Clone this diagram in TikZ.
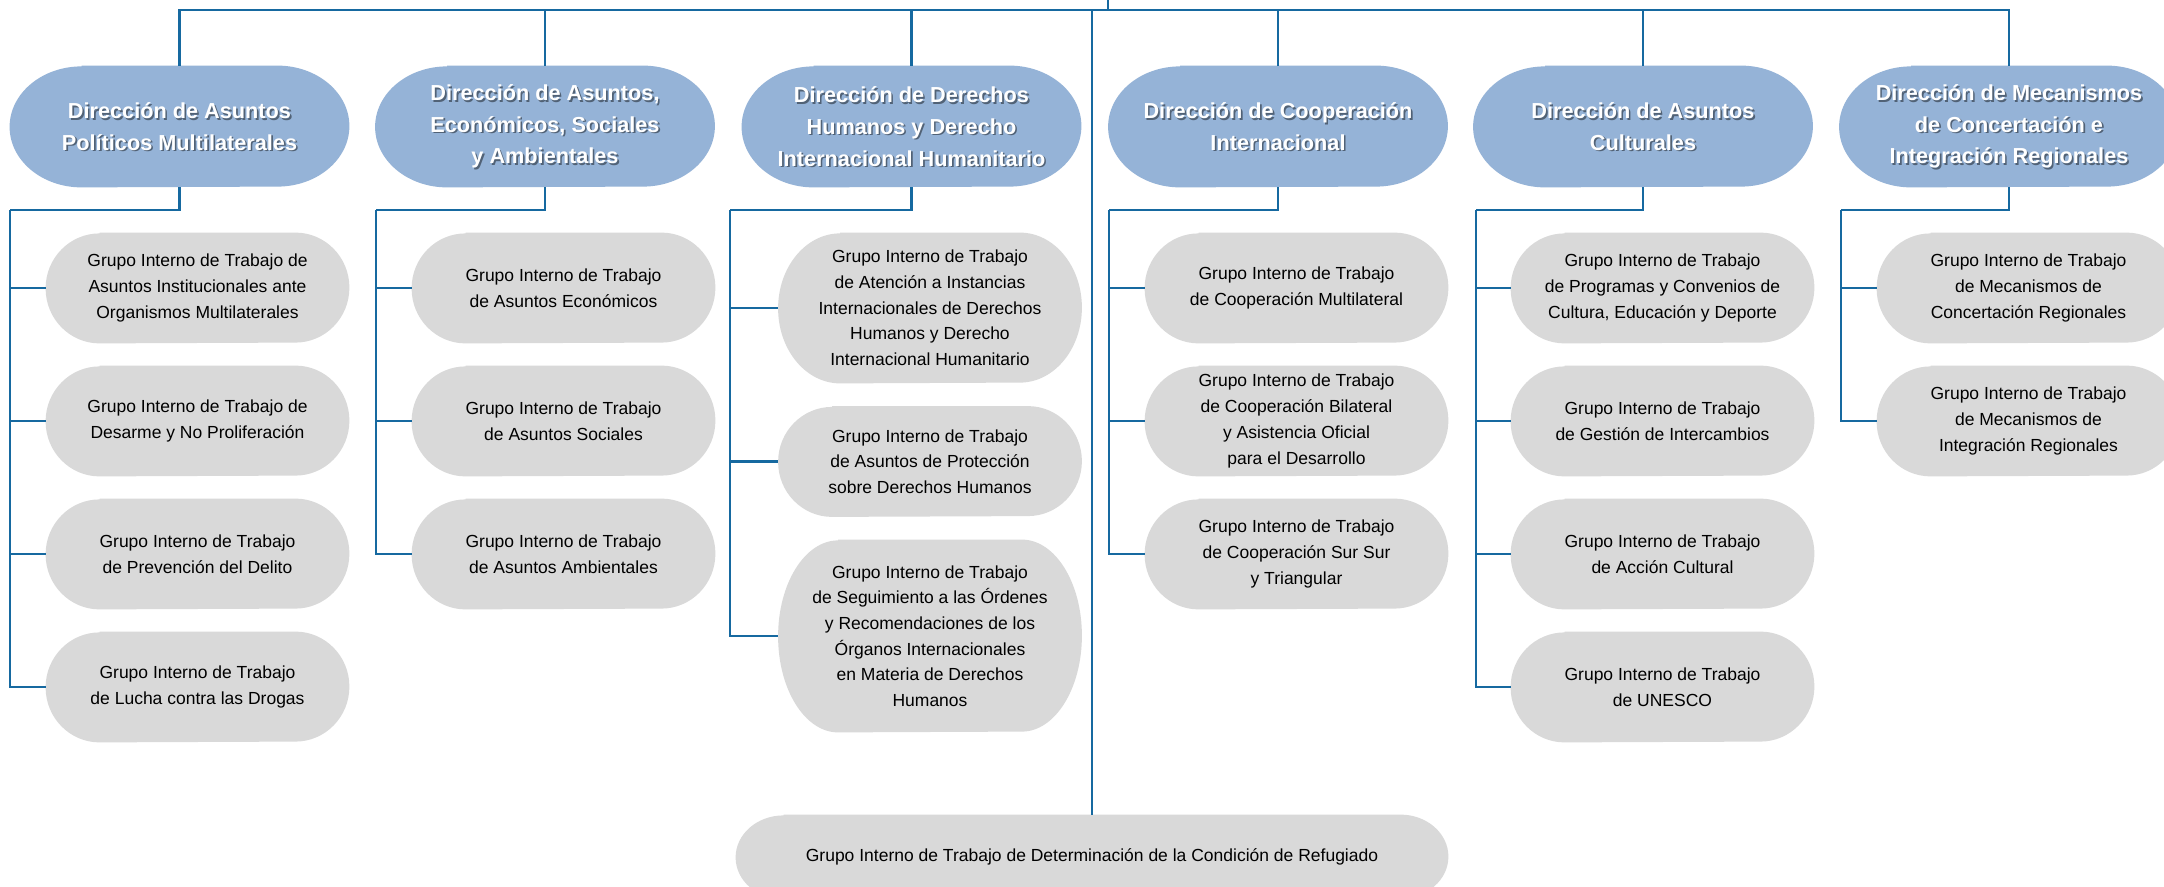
\documentclass[tikz,border=0pt]{standalone}
\usepackage{fontspec}
\setmainfont{Liberation Sans}
\definecolor{linec}{RGB}{22,105,160}
\definecolor{dirblue}{RGB}{149,179,215}
\definecolor{grpgray}{RGB}{217,217,217}
\newcommand\grpfont{\fontsize{8.75pt}{12.85pt}\selectfont}
\newcommand\dirfont{\bfseries\fontsize{10.85pt}{15.85pt}\selectfont}
\pgfdeclarelayer{background}
\pgfsetlayers{background,main}
\tikzset{
  conn/.style={draw=linec, line width=1.2pt},
  dirbox/.style={minimum width=169.5pt, minimum height=60.5pt, inner sep=0pt},
  dirtext/.style={align=center, font=\dirfont, text=white, inner sep=0pt},
  dirshadow/.style={align=center, font=\dirfont, text=black, text opacity=0.45, inner sep=0pt},
  grp/.style={minimum width=151.5pt, minimum height=55pt, inner sep=0pt, align=center, font=\grpfont},
}
% stadium-like fill with elliptic ends: name, colour, x radius, y radius
\newcommand\stad[4]{%
  \begin{pgfonlayer}{background}
  \fill[#2] ([xshift=#3]#1.north west) -- ([xshift=-#3]#1.north east)
    arc[start angle=90,end angle=-90,x radius=#3,y radius=#4]
    -- ([xshift=#3]#1.south west)
    arc[start angle=270,end angle=90,x radius=#3,y radius=#4] -- cycle;
  \end{pgfonlayer}}
\newcommand\dirnode[3]{%
  \node[dirbox] (#1) at (#2,126.5) {};
  \stad{#1}{dirblue}{36pt}{30.25pt}
  \node[dirshadow] (#1s) at ([shift={(1.6,1.6)}]#1.center) {#3};
  \node[dirtext] (#1t) at (#1.center) {#3};
}
\begin{document}
\begin{tikzpicture}[x=0.5pt,y=-0.5pt]
\useasboundingbox (0,0) rectangle (2164,887);
\clip (0,0) rectangle (2164,887);
\begin{pgfonlayer}{background}
\fill[white] (0,0) rectangle (2164,887);
\end{pgfonlayer}

% Direcciones
\dirnode{B1}{179.5}{Dirección de Asuntos\\Políticos Multilaterales}
\dirnode{B2}{545}{Dirección de Asuntos,\\Económicos, Sociales\\y Ambientales}
\dirnode{B3}{911.5}{Dirección de Derechos\\Humanos y Derecho\\Internacional Humanitario}
\dirnode{B4}{1278}{Dirección de Cooperación\\Internacional}
\dirnode{B5}{1643}{Dirección de Asuntos\\Culturales}
\dirnode{B6}{2009}{Dirección de Mecanismos\\de Concertación e\\Integración Regionales}

% Column 1
\node[grp] (G11) at (197.5,288) {Grupo Interno de Trabajo de\\Asuntos Institucionales ante\\Organismos Multilaterales};
\node[grp] (G12) at (197.5,421) {Grupo Interno de Trabajo de\\Desarme y No Proliferación};
\node[grp] (G13) at (197.5,554) {Grupo Interno de Trabajo\\de Prevención del Delito};
\node[grp] (G14) at (197.5,687) {Grupo Interno de Trabajo\\de Lucha contra las Drogas};

% Column 2
\node[grp] (G21) at (563.5,288) {Grupo Interno de Trabajo\\de Asuntos Económicos};
\node[grp] (G22) at (563.5,421) {Grupo Interno de Trabajo\\de Asuntos Sociales};
\node[grp] (G23) at (563.5,554) {Grupo Interno de Trabajo\\de Asuntos Ambientales};

% Column 3
\node[grp, minimum height=75pt] (G31) at (930,308) {Grupo Interno de Trabajo\\de Atención a Instancias\\Internacionales de Derechos\\Humanos y Derecho\\Internacional Humanitario};
\node[grp] (G32) at (930,461.5) {Grupo Interno de Trabajo\\de Asuntos de Protección\\sobre Derechos Humanos};
\node[grp, minimum height=96pt] (G33) at (930,636) {Grupo Interno de Trabajo\\de Seguimiento a las Órdenes\\y Recomendaciones de los\\Órganos Internacionales\\en Materia de Derechos\\Humanos};

% Column 4
\node[grp] (G41) at (1296.5,288) {Grupo Interno de Trabajo\\de Cooperación Multilateral};
\node[grp] (G42) at (1296.5,421) {Grupo Interno de Trabajo\\de Cooperación Bilateral\\y Asistencia Oficial\\para el Desarrollo};
\node[grp] (G43) at (1296.5,554) {Grupo Interno de Trabajo\\de Cooperación Sur Sur\\y Triangular};

% Column 5
\node[grp] (G51) at (1662.5,288) {Grupo Interno de Trabajo\\de Programas y Convenios de\\Cultura, Educación y Deporte};
\node[grp] (G52) at (1662.5,421) {Grupo Interno de Trabajo\\de Gestión de Intercambios};
\node[grp] (G53) at (1662.5,554) {Grupo Interno de Trabajo\\de Acción Cultural};
\node[grp] (G54) at (1662.5,687) {Grupo Interno de Trabajo\\de UNESCO};

% Column 6
\node[grp] (G61) at (2028.5,288) {Grupo Interno de Trabajo\\de Mecanismos de\\Concertación Regionales};
\node[grp] (G62) at (2028.5,421) {Grupo Interno de Trabajo\\de Mecanismos de\\Integración Regionales};

% Refugiado
\node[grp, minimum width=356pt, minimum height=42pt] (R) at (1092,857) {Grupo Interno de Trabajo de Determinación de la Condición de Refugiado};

% grey fills
\foreach \g in {G11,G12,G13,G14,G21,G22,G23,G32,G41,G42,G43,G51,G52,G53,G54,G61,G62}
  {\stad{\g}{grpgray}{27pt}{27.5pt}}
\stad{G31}{grpgray}{31pt}{37.5pt}
\stad{G33}{grpgray}{30pt}{48pt}
\stad{R}{grpgray}{24pt}{21pt}

% Top connectors
\coordinate (top) at (1108,10);
\coordinate (topup) at (1108,0);
\coordinate (topR) at (1092,10);
\draw[conn] (topup) -- (top);
\draw[conn] (B1.north) |- (top);
\draw[conn] (B6.north) |- (top);
\draw[conn] (B2.north) -- (B2.north |- top);
\draw[conn] (B3.north) -- (B3.north |- top);
\draw[conn] (B4.north) -- (B4.north |- top);
\draw[conn] (B5.north) -- (B5.north |- top);
\draw[conn, line width=1pt] (topR) -- (R.north);

% Column connectors
\coordinate (c1) at (10,210);
\coordinate (c2) at (376,210);
\coordinate (c3) at (730,210);
\coordinate (c4) at (1109,210);
\coordinate (c5) at (1476,210);
\coordinate (c6) at (1841,210);
\draw[conn] (B1.south) |- (c1);
\draw[conn] (B2.south) |- (c2);
\draw[conn] (B3.south) |- (c3);
\draw[conn] (B4.south) |- (c4);
\draw[conn] (B5.south) |- (c5);
\draw[conn] (B6.south) |- (c6);
\foreach \g in {G11,G12,G13,G14} \draw[conn] (c1) |- (\g.west);
\foreach \g in {G21,G22,G23} \draw[conn] (c2) |- (\g.west);
\foreach \g in {G31,G32,G33} \draw[conn] (c3) |- (\g.west);
\foreach \g in {G41,G42,G43} \draw[conn] (c4) |- (\g.west);
\foreach \g in {G51,G52,G53,G54} \draw[conn] (c5) |- (\g.west);
\foreach \g in {G61,G62} \draw[conn] (c6) |- (\g.west);
\end{tikzpicture}
\end{document}
